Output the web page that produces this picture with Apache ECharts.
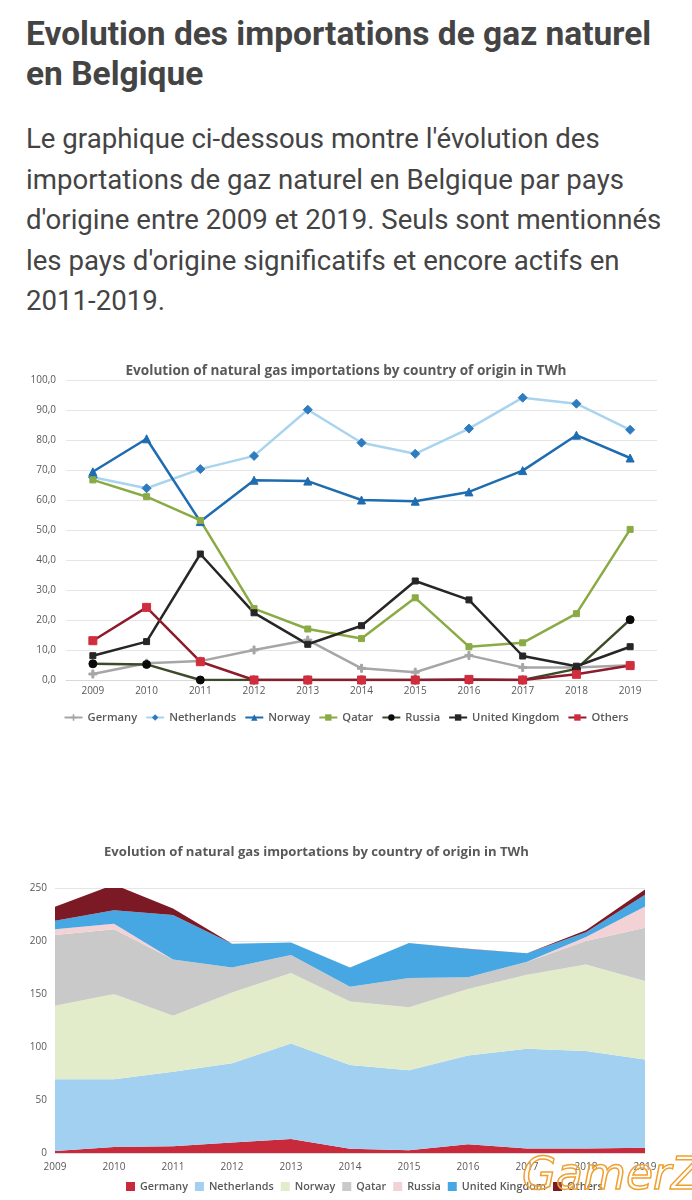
<!DOCTYPE html>
<html>
<head>
<meta charset="utf-8">
<script src="https://cdn.jsdelivr.net/npm/echarts@6/dist/echarts.min.js"></script>
<style>
  html, body { margin: 0; padding: 0; background: #fff; width: 692px; height: 1200px; overflow: hidden; }
  #h { position: absolute; left: 26px; top: 14px; font-family: Roboto, sans-serif; font-weight: 700; font-size: 33.5px; line-height: 40px; color: #444; white-space: nowrap; letter-spacing: 0px; }
  #p { position: absolute; left: 26px; top: 119px; font-family: Roboto, sans-serif; font-weight: 400; font-size: 27.6px; line-height: 40.6px; color: #444; white-space: nowrap; }
  #c1 { position: absolute; left: 0; top: 340px; width: 692px; height: 400px; }
  #c2 { position: absolute; left: 0; top: 820px; width: 692px; height: 380px; }
  #wm { position: absolute; left: 522px; top: 1148px; font-family: "DejaVu Sans", sans-serif; font-style: italic; font-size: 44px; color: rgba(255,255,255,0.2); -webkit-text-stroke: 1.5px #f0a030; letter-spacing: 0px; }
</style>
</head>
<body>
<div id="h">Evolution des importations de gaz naturel<br>en Belgique</div>
<div id="p">Le graphique ci-dessous montre l'évolution des<br>importations de gaz naturel en Belgique par pays<br>d'origine entre 2009 et 2019. Seuls sont mentionnés<br>les pays d'origine significatifs et encore actifs en<br>2011-2019.</div>
<div id="c1"></div>
<div id="c2"></div>
<div id="wm">GamerZ</div>
<script>
var years = ['2009','2010','2011','2012','2013','2014','2015','2016','2017','2018','2019'];
var seriesNames = ['Germany','Netherlands','Norway','Qatar','Russia','United Kingdom','Others'];
var germany     = [2.0, 5.6, 6.3, 10.0, 13.3, 3.9, 2.6, 8.2, 4.2, 4.2, 4.9];
var netherlands = [67.6, 63.9, 70.3, 74.7, 90.1, 79.1, 75.4, 83.8, 94.1, 92.1, 83.4];
var norway      = [69.4, 80.4, 52.8, 66.6, 66.3, 60.0, 59.6, 62.7, 69.8, 81.6, 74.0];
var qatar       = [66.7, 61.1, 53.2, 23.8, 17.0, 13.8, 27.4, 11.1, 12.4, 22.1, 50.2];
var russia      = [5.4, 5.2, 0, 0, 0, 0, 0, 0, 0, 3.7, 20.1];
var uk          = [8.1, 12.8, 42.0, 22.4, 11.9, 18.1, 33.0, 26.7, 8.0, 4.6, 11.1];
var others      = [13.1, 24.2, 6.1, 0, 0, 0, 0, 0.2, 0, 1.9, 4.8];
var chartTitle = 'Evolution of natural gas importations by country of origin in TWh';
var allData = [germany, netherlands, norway, qatar, russia, uk, others];

var FONT = '"Open Sans", sans-serif';
var plusPath = 'path://M3,0h2v3h3v2h-3v3h-2v-3h-3v-2h3z';

var lineStyles = [
  {line: '#a6a6a6', mark: '#a6a6a6', symbol: plusPath, size: 8},
  {line: '#a9d4ef', mark: '#2f7bbf', symbol: 'diamond', size: 9},
  {line: '#1f6cb0', mark: '#1f6cb0', symbol: 'triangle', size: 8},
  {line: '#8aab44', mark: '#8aab44', symbol: 'rect', size: 6},
  {line: '#3d4b2a', mark: '#0a0a0a', symbol: 'circle', size: 8},
  {line: '#262626', mark: '#262626', symbol: 'rect', size: 6},
  {line: '#8c1c2c', mark: '#d12d3e', symbol: 'rect', size: 8}
];

var c1 = echarts.init(document.getElementById('c1'));
c1.setOption({
  animation: false,
  title: { text: chartTitle, left: 'center', top: 19, textStyle: { fontFamily: FONT, fontSize: 13.6, fontWeight: 'bold', color: '#595959' } },
  grid: { left: 66, right: 35, top: 40, height: 300 },
  legend: {
    top: 367, left: 'center', itemWidth: 18, itemHeight: 8, itemGap: 8,
    textStyle: { fontFamily: FONT, fontSize: 11.2, color: '#595959', fontWeight: 600 },
    data: seriesNames
  },
  xAxis: {
    type: 'category', data: years, boundaryGap: true,
    axisLine: { lineStyle: { color: '#d9d9d9' } }, axisTick: { show: false },
    axisLabel: { fontFamily: FONT, fontSize: 10, color: '#595959', margin: 6 }
  },
  yAxis: {
    type: 'value', min: 0, max: 100, interval: 10,
    axisLine: { show: false }, axisTick: { show: false },
    splitLine: { lineStyle: { color: '#e6e6e6' } },
    axisLabel: { fontFamily: FONT, fontSize: 10, color: '#595959', margin: 10, formatter: function (v) { return v.toFixed(1).replace('.', ','); } }
  },
  series: seriesNames.map(function (n, i) {
    var s = lineStyles[i];
    return {
      name: n, type: 'line', data: allData[i],
      symbol: s.symbol, symbolSize: s.size, showAllSymbol: true,
      lineStyle: { color: s.line, width: 2.5 },
      itemStyle: { color: s.mark, borderColor: s.mark }
    };
  })
});

var areaColors = ['#c8293b', '#a2d0f1', '#e3ecca', '#c9c9c9', '#f3d2d6', '#47a7e3', '#7b1a25'];
var c2 = echarts.init(document.getElementById('c2'));
c2.setOption({
  animation: false,
  title: { text: chartTitle, left: 99, top: 21, textStyle: { fontFamily: FONT, fontSize: 13.1, fontWeight: 'bold', color: '#595959' } },
  grid: { left: 55, right: 47, top: 68, height: 265 },
  legend: {
    top: 356, left: 121, itemWidth: 9, itemHeight: 9, itemGap: 7, icon: 'rect',
    textStyle: { fontFamily: FONT, fontSize: 10.8, color: '#595959', fontWeight: 600 },
    data: seriesNames
  },
  xAxis: {
    type: 'category', data: years, boundaryGap: false,
    axisLine: { lineStyle: { color: '#d9d9d9' } }, axisTick: { show: false },
    axisLabel: { fontFamily: FONT, fontSize: 10, color: '#595959', margin: 9 }
  },
  yAxis: {
    type: 'value', min: 0, max: 250, interval: 50,
    axisLine: { show: false }, axisTick: { show: false },
    splitLine: { lineStyle: { color: '#e6e6e6' } },
    axisLabel: { fontFamily: FONT, fontSize: 10, color: '#595959', margin: 8 }
  },
  series: seriesNames.map(function (n, i) {
    return {
      name: n, type: 'line', stack: 'total', data: allData[i],
      symbol: 'none', lineStyle: { width: 0 },
      itemStyle: { color: areaColors[i] },
      areaStyle: { color: areaColors[i], opacity: 1 }
    };
  })
});
</script>
</body>
</html>
